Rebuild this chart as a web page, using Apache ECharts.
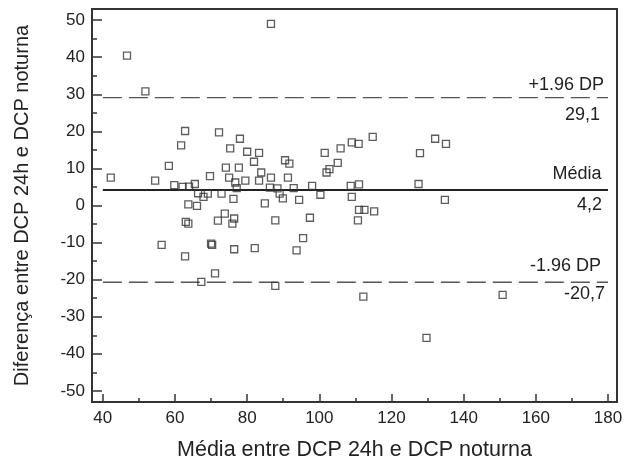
<!DOCTYPE html>
<html>
<head>
<meta charset="utf-8">
<script src="https://cdn.jsdelivr.net/npm/echarts@6/dist/echarts.min.js"></script>
<style>
  html, body { margin: 0; padding: 0; background: #fff; }
  #chart { width: 633px; height: 462px; }
</style>
</head>
<body>
<div id="chart"></div>
<script>
// média entre as duas medidas (eixo x)
const meanValues = [
  46.7, 51.8, 62.8, 61.7, 72.2, 86.6, 78.0, 75.3, 80.0, 83.3,
  101.5, 105.9, 109.0, 110.9, 114.8, 127.9, 132.1, 135.1, 42.2, 54.5,
  58.3, 59.8, 62.1, 63.9, 65.5, 69.7, 66.4, 67.9, 69.1, 63.7,
  66.1, 63.0, 63.7, 71.9, 56.3, 62.8, 70.0, 70.3, 71.1, 67.3,
  81.9, 90.5, 91.7, 105.1, 102.8, 102.0, 74.1, 77.7, 83.9, 75.0,
  76.7, 79.5, 83.3, 86.6, 91.3, 77.1, 86.3, 88.4, 92.9, 98.0,
  108.7, 111.0, 72.9, 89.0, 89.9, 76.2, 94.4, 100.3, 109.0, 84.9,
  111.0, 112.5, 115.2, 73.8, 76.4, 75.9, 87.8, 97.4, 110.7, 95.5,
  76.4, 82.1, 93.7, 87.8, 127.5, 134.8, 112.2, 150.8, 129.7
]
// diferença entre as duas medidas (eixo y)
const diffValues = [
  40.4, 30.8, 20.1, 16.2, 19.7, 49.0, 18.0, 15.4, 14.5, 14.2,
  14.2, 15.4, 17.0, 16.6, 18.5, 14.1, 18.0, 16.6, 7.5, 6.7,
  10.7, 5.5, 5.0, 5.1, 5.8, 7.9, 3.3, 2.3, 3.2, 0.3,
  -0.1, -4.4, -4.9, -4.1, -10.6, -13.7, -10.3, -10.6, -18.3, -20.6,
  11.8, 12.2, 11.3, 11.5, 9.8, 8.9, 10.2, 10.2, 8.9, 7.5,
  6.2, 6.7, 6.7, 7.5, 7.5, 4.7, 4.8, 4.6, 4.7, 5.3,
  5.3, 5.7, 3.2, 3.2, 1.9, 1.8, 1.5, 2.9, 2.3, 0.6,
  -1.2, -1.2, -1.6, -2.2, -3.5, -4.9, -4.0, -3.3, -4.0, -8.8,
  -11.8, -11.5, -12.1, -21.7, 5.8, 1.5, -24.6, -24.1, -35.7
]

// linhas de referência (limites de concordância e média)
const refValues = [29.1, 4.2, -20.7]
const refTopLabels = ['+1.96 DP', 'Média', '-1.96 DP']
const refBottomLabels = ['29,1', '4,2', '-20,7']
const refDashed = [true, false, true]
const lineStart = 40
const lineEnd = 180

const xTicks = [40, 60, 80, 100, 120, 140, 160, 180]
const xMinorTicks = [50, 70, 90, 110, 130, 150, 170]
const yTicks = [-50, -40, -30, -20, -10, 0, 10, 20, 30, 40, 50]
const yMinorTicks = [-45, -35, -25, -15, -5, 5, 15, 25, 35, 45]

const FONT = '"Liberation Sans", Arial, sans-serif'
const TEXT = '#222'
const FRAME = '#333'

// distância dos rótulos à linha (acima / abaixo)
const labelGapTop = [4, 6.5, 7]
const labelGapBottom = [8, 6, 3]

const chart = echarts.init(document.getElementById('chart'), null, { renderer: 'canvas' })

const xMin = 37
const xMax = 182.5
const yMin = -53
const yMax = 53

function xAxisBase(extra) {
  return Object.assign({
    type: 'value',
    min: xMin,
    max: xMax,
    position: 'bottom',
    splitLine: { show: false },
    axisLine: { show: true, onZero: false, lineStyle: { color: FRAME, width: 2 } }
  }, extra)
}
function yAxisBase(extra) {
  return Object.assign({
    type: 'value',
    min: yMin,
    max: yMax,
    position: 'left',
    splitLine: { show: false },
    axisLine: { show: true, onZero: false, lineStyle: { color: FRAME, width: 2 } }
  }, extra)
}

const hidden = 'rgba(0,0,0,0)'
const lineSeries = refValues.map(function (v, i) {
  const dashed = refDashed[i]
  return {
    type: 'line',
    data: [[lineStart, v], [lineEnd, v]],
    symbol: 'none',
    silent: true,
    lineStyle: {
      color: dashed ? '#555' : '#222',
      width: dashed ? 1.3 : 2,
      type: dashed ? [19, 7] : 'solid'
    },
    z: 1,
    markLine: {
      silent: true,
      symbol: 'none',
      animation: false,
      lineStyle: { color: hidden, type: 'solid', width: 1 },
      label: { color: TEXT, fontFamily: FONT, fontSize: 18 },
      data: [
        [
          { coord: [lineStart, v], label: { position: 'insideEndTop', formatter: refTopLabels[i], distance: labelGapTop[i] } },
          { coord: [lineEnd, v] }
        ],
        [
          { coord: [lineStart, v], label: { position: 'insideEndBottom', formatter: refBottomLabels[i], distance: labelGapBottom[i] } },
          { coord: [lineEnd, v] }
        ]
      ]
    }
  }
})

chart.setOption({
  animation: false,
  backgroundColor: '#fff',
  grid: {
    left: 92,
    right: 16,
    top: 9,
    bottom: 60,
    containLabel: false,
    outerBoundsMode: 'none',
    show: true,
    borderColor: FRAME,
    borderWidth: 2,
    backgroundColor: 'transparent'
  },
  xAxis: [
    xAxisBase({
      name: 'Média entre DCP 24h e DCP noturna',
      nameLocation: 'middle',
      nameGap: 37,
      nameTextStyle: { color: TEXT, fontFamily: FONT, fontSize: 21.5 },
      axisTick: { show: true, inside: true, length: 8, customValues: xTicks, lineStyle: { color: FRAME, width: 1.5 } },
      axisLabel: { color: TEXT, fontFamily: FONT, fontSize: 17, margin: 8, customValues: xTicks }
    }),
    xAxisBase({
      axisLine: { show: false, onZero: false },
      axisTick: { show: true, inside: true, length: 4, customValues: xMinorTicks, lineStyle: { color: FRAME, width: 1.5 } },
      axisLabel: { show: false, customValues: xMinorTicks }
    })
  ],
  yAxis: [
    yAxisBase({
      name: 'Diferença entre DCP 24h e DCP noturna',
      nameLocation: 'middle',
      nameGap: 60,
      nameTextStyle: { color: TEXT, fontFamily: FONT, fontSize: 20 },
      axisTick: { show: true, inside: true, length: 10, customValues: yTicks, lineStyle: { color: FRAME, width: 1.5 } },
      axisLabel: { color: TEXT, fontFamily: FONT, fontSize: 17, margin: 7, customValues: yTicks }
    }),
    yAxisBase({
      axisLine: { show: false, onZero: false },
      axisTick: { show: true, inside: true, length: 5, customValues: yMinorTicks, lineStyle: { color: FRAME, width: 1.5 } },
      axisLabel: { show: false, customValues: yMinorTicks }
    })
  ],
  series: lineSeries.concat([
    {
      type: 'scatter',
      data: meanValues.map(function (x, i) { return [x, diffValues[i]] }),
      symbol: 'rect',
      symbolSize: 7,
      itemStyle: { color: 'transparent', borderColor: '#333', borderWidth: 1.3 },
      z: 3
    }
  ])
})
</script>
</body>
</html>
